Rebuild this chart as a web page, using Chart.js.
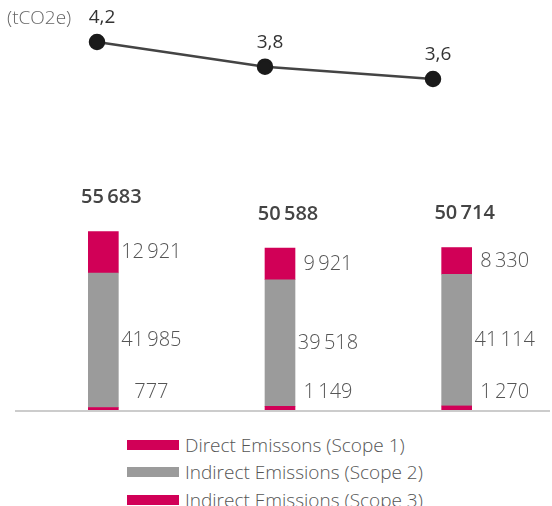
<!DOCTYPE html>
<html>
<head>
<meta charset="utf-8">
<script src="https://cdn.jsdelivr.net/npm/chart.js@4.4.1/dist/chart.umd.min.js"></script>
<style>
    body { margin: 0; background: #fff; width: 552px; height: 506px; overflow: hidden; position: relative; font-family: 'Open Sans', sans-serif; }
    canvas { position: absolute; left: 0; top: 0; }
    .unit { position: absolute; left: 7px; top: 4px; font-size: 19px; font-weight: 300; color: #666; }
    .legend { position: absolute; left: 127px; top: 431px; }
    .legend-item { display: flex; align-items: center; height: 27.5px; font-size: 19px; font-weight: 300; color: #555; white-space: nowrap; }
    .legend-box { width: 52px; height: 10px; margin-right: 6px; }
</style>
</head>
<body>
<canvas id="bar-chart" width="552" height="420"></canvas>
<canvas id="line-chart" width="552" height="100"></canvas>
<div class="unit">(tCO2e)</div>
<div class="legend" id="legend"></div>
<script>
// ========== データ ==========
const years = ['2019', '2020', '2021'];
const scope1 = [12921, 9921, 8330];
const scope2 = [41985, 39518, 41114];
const scope3 = [777, 1149, 1270];
const totals = [55683, 50588, 50714];
const intensity = [4.2, 3.8, 3.6];

const seriesNames = ['Direct Emissons (Scope 1)', 'Indirect Emissions (Scope 2)', 'Indirect Emissions (Scope 3)'];
const MAGENTA = '#d10057';
const GREY = '#9b9b9b';

function fmt(v) {
    return String(v).replace(/\B(?=(\d{3})+(?!\d))/g, '\u2009');
}

// ---- バーのラベル ----
const barLabels = {
    id: 'barLabels',
    afterDatasetsDraw(chart) {
        const ctx = chart.ctx;
        ctx.save();
        ctx.textAlign = 'center';
        ctx.textBaseline = 'middle';
        ctx.font = "300 20px 'Open Sans', sans-serif";
        ctx.fillStyle = '#555';
        chart.data.datasets.forEach((ds, di) => {
            const meta = chart.getDatasetMeta(di);
            meta.data.forEach((bar, i) => {
                let y = (bar.y + bar.base) / 2;
                if (ds.key === 'scope3') y = bar.base - 18;
                ctx.fillText(fmt(ds.data[i]), bar.x + 48, y);
            });
        });
        // 合計
        const top = chart.getDatasetMeta(chart.data.datasets.length - 1);
        ctx.font = "600 20px 'Open Sans', sans-serif";
        ctx.fillStyle = '#444';
        top.data.forEach((bar, i) => {
            ctx.fillText(fmt(totals[i]), bar.x + 8, bar.y - 34);
        });
        // 基線
        ctx.strokeStyle = '#cccccc';
        ctx.lineWidth = 2;
        ctx.beginPath();
        ctx.moveTo(chart.chartArea.left, chart.chartArea.bottom + 1);
        ctx.lineTo(chart.width - 2, chart.chartArea.bottom + 1);
        ctx.stroke();
        ctx.restore();
    }
};

const lineLabels = {
    id: 'lineLabels',
    afterDatasetsDraw(chart) {
        const ctx = chart.ctx;
        const meta = chart.getDatasetMeta(0);
        ctx.save();
        ctx.textAlign = 'center';
        ctx.textBaseline = 'middle';
        ctx.font = "19px 'Open Sans', sans-serif";
        ctx.fillStyle = '#333';
        meta.data.forEach((pt, i) => {
            ctx.fillText(String(intensity[i]).replace('.', ','), pt.x + 5, pt.y - 24);
        });
        ctx.restore();
    }
};

new Chart(document.getElementById('bar-chart'), {
    type: 'bar',
    data: {
        labels: years,
        datasets: [
            { key: 'scope3', label: seriesNames[2], data: scope3, backgroundColor: MAGENTA },
            { key: 'scope2', label: seriesNames[1], data: scope2, backgroundColor: GREY },
            { key: 'scope1', label: seriesNames[0], data: scope1, backgroundColor: MAGENTA },
        ],
    },
    options: {
        responsive: false,
        animation: false,
        layout: { autoPadding: false, padding: { left: 15, right: 7, top: 0, bottom: 10 } },
        datasets: { bar: { barThickness: 30 } },
        plugins: { legend: { display: false }, tooltip: { enabled: false } },
        scales: {
            x: { stacked: true, display: false },
            y: { stacked: true, display: false, min: 0, max: 128000 },
        },
    },
    plugins: [barLabels],
});

new Chart(document.getElementById('line-chart'), {
    type: 'line',
    data: {
        labels: years,
        datasets: [{
            data: intensity,
            borderColor: '#444',
            borderWidth: 2.5,
            pointRadius: 7,
            pointBackgroundColor: '#1a1a1a',
            pointBorderColor: '#1a1a1a',
            clip: false,
        }],
    },
    options: {
        responsive: false,
        animation: false,
        layout: { autoPadding: false, padding: { left: 13, right: 35, top: 0, bottom: 0 } },
        plugins: { legend: { display: false }, tooltip: { enabled: false } },
        scales: {
            x: { display: false, offset: true },
            y: { display: false, min: 3.26, max: 4.88 },
        },
    },
    plugins: [lineLabels],
});

// 凡例
const legendColors = [MAGENTA, GREY, MAGENTA];
document.getElementById('legend').innerHTML = seriesNames.map((n, i) =>
    `<div class="legend-item"><span class="legend-box" style="background:${legendColors[i]}"></span>${n}</div>`
).join('');
</script>
</body>
</html>
